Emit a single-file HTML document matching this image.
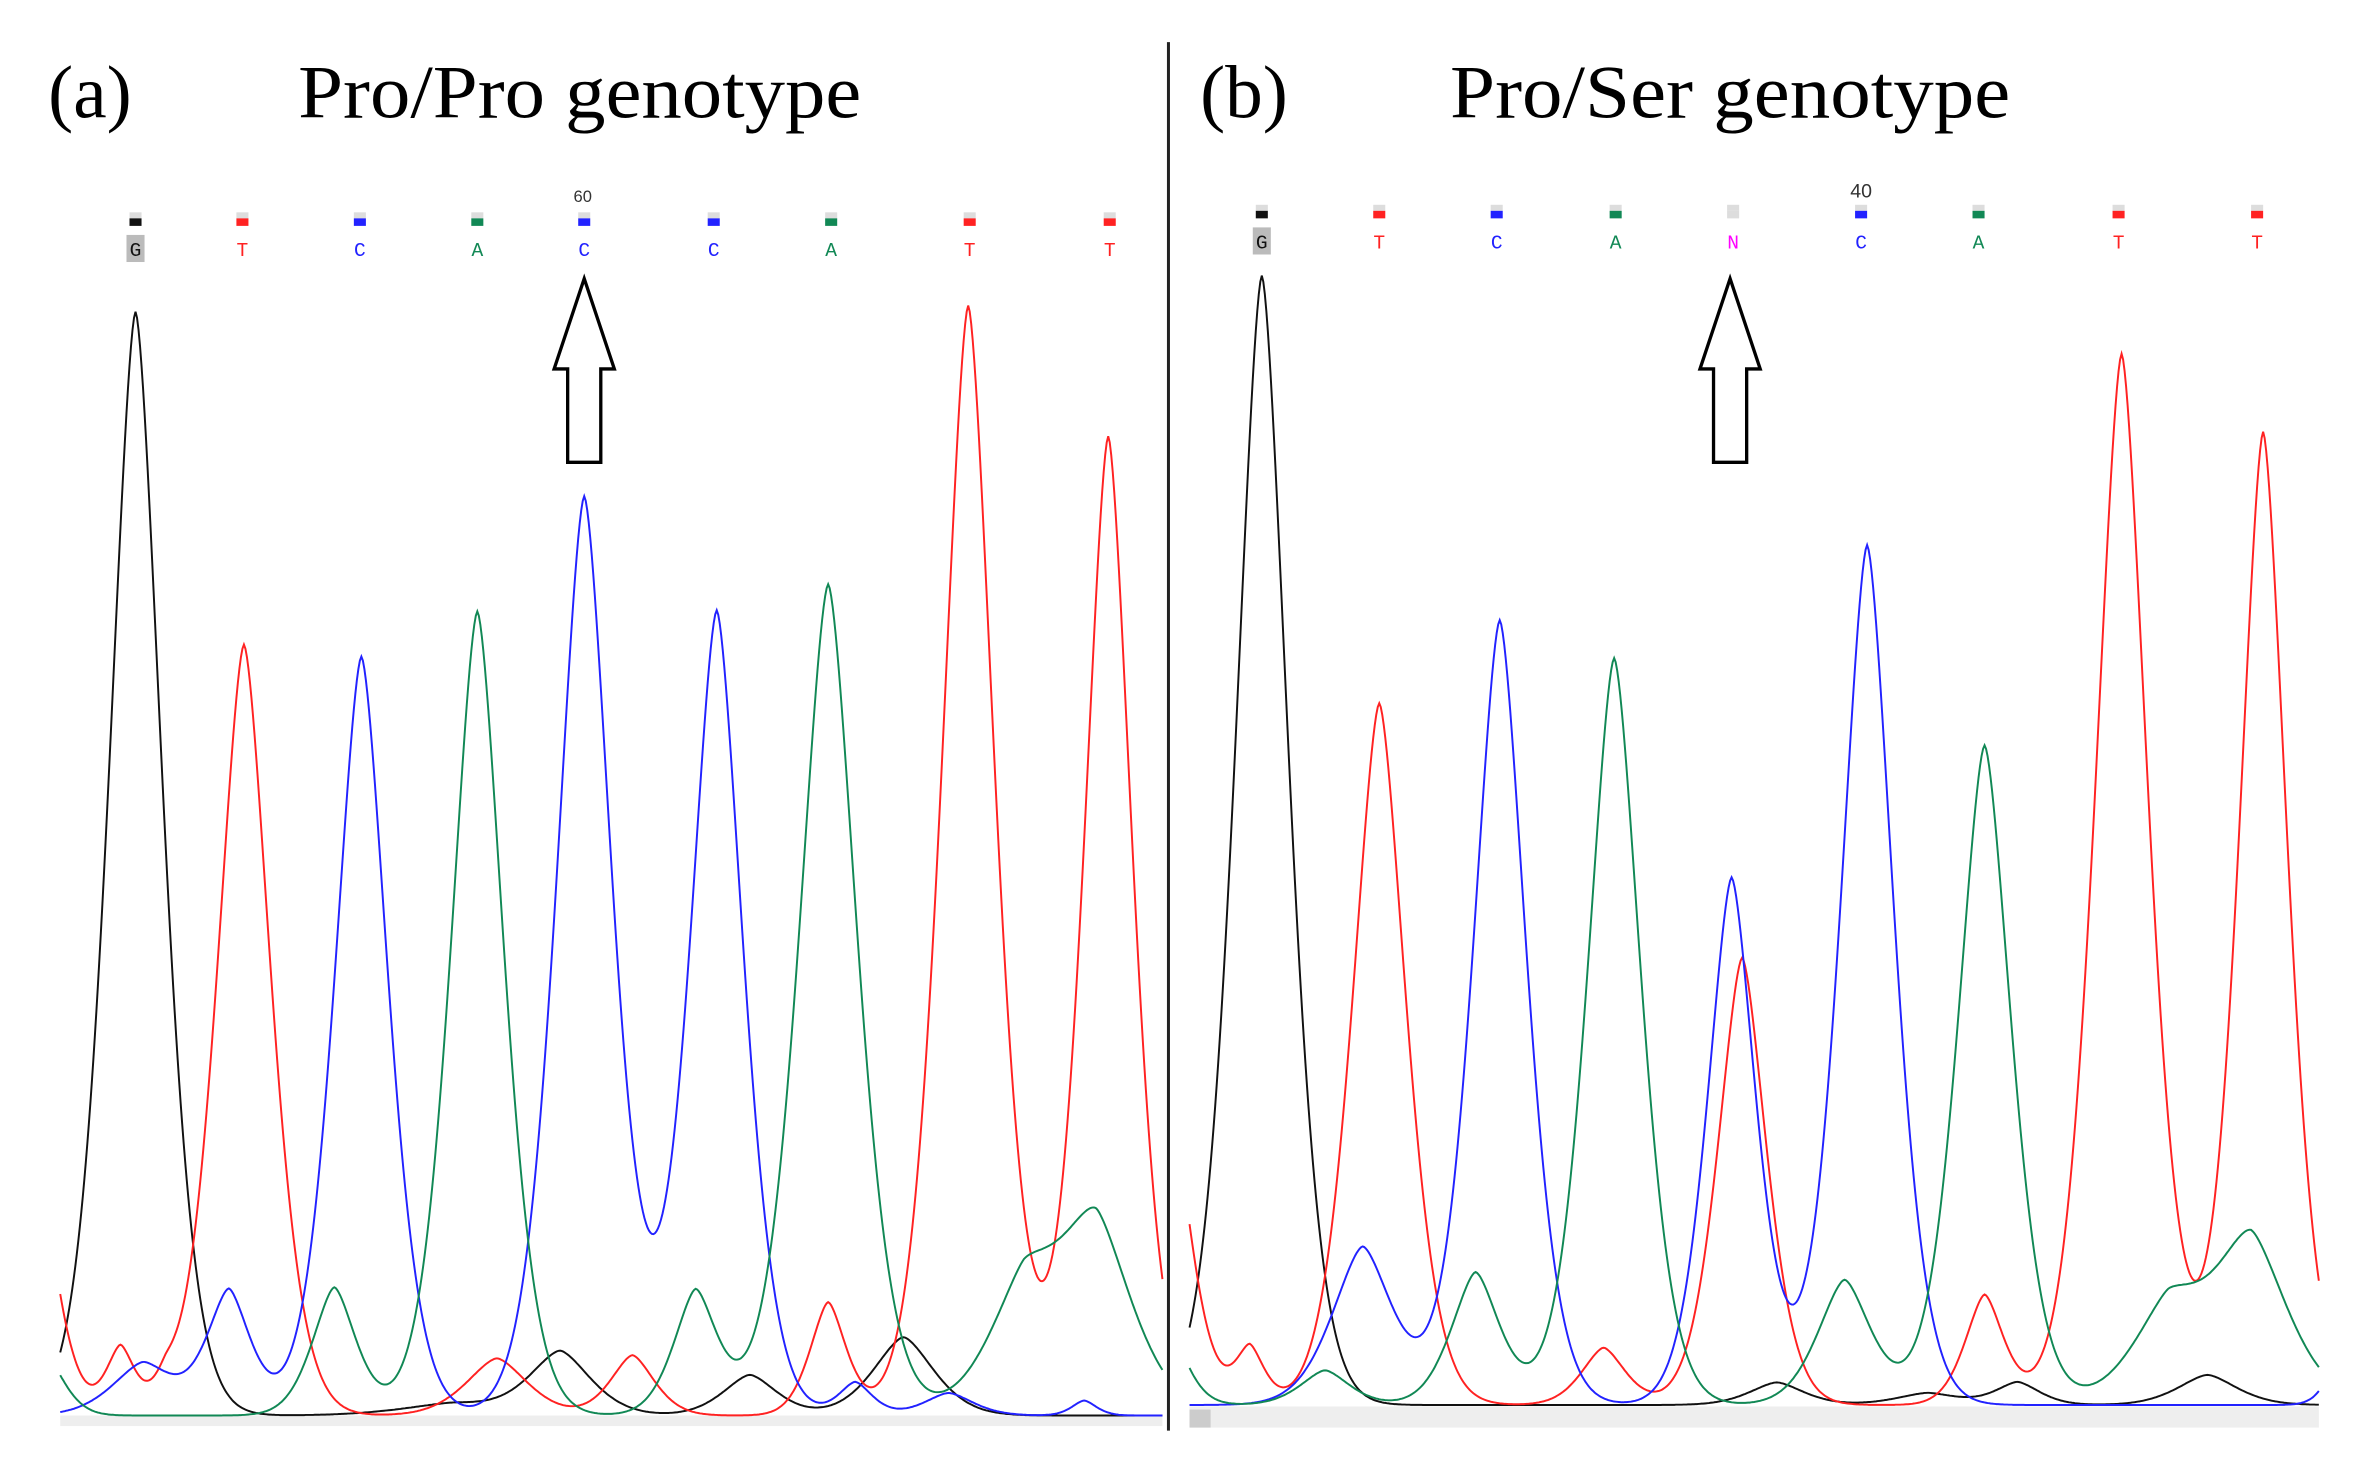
<!DOCTYPE html>
<html><head><meta charset="utf-8"><style>
html,body{margin:0;padding:0;background:#fff;width:2361px;height:1469px;overflow:hidden}
svg{display:block}
</style></head><body>
<svg id="s" width="2361" height="1469" viewBox="0 0 1568 975.5" preserveAspectRatio="none" xmlns="http://www.w3.org/2000/svg">
<rect width="1568" height="976" fill="#fff"/>
<rect x="40" y="940" width="732" height="7" fill="#eee"/>
<rect x="790" y="934" width="750" height="14" fill="#eee"/>
<rect x="790" y="936" width="14" height="12" fill="#ccc"/>
<line x1="776" y1="28" x2="776" y2="950" stroke="#222" stroke-width="2"/>
<g font-family="Liberation Serif, serif" fill="#000">
<text x="32" y="78" font-size="50">(a)</text>
<text x="198" y="78" font-size="50" textLength="374" lengthAdjust="spacingAndGlyphs">Pro/Pro genotype</text>
<text x="797" y="78" font-size="50">(b)</text>
<text x="963" y="78" font-size="50" textLength="372" lengthAdjust="spacingAndGlyphs">Pro/Ser genotype</text>
</g>
<g id="calls" font-family="Liberation Mono, monospace" font-size="13" text-anchor="middle"></g>
<text x="387" y="134" font-size="11" font-family="Liberation Sans, sans-serif" text-anchor="middle" fill="#333">60</text>
<text x="1236" y="131" font-size="13" font-family="Liberation Sans, sans-serif" text-anchor="middle" fill="#333">40</text>
<g id="traces" fill="none" stroke-width="1.3"></g>
<path d="M388 185 L408 245 L399 245 L399 307 L377 307 L377 245 L368 245 Z" fill="#fff" stroke="#000" stroke-width="2.2"/>
<path d="M1149 185 L1169 245 L1160 245 L1160 307 L1138 307 L1138 245 L1129 245 Z" fill="#fff" stroke="#000" stroke-width="2.2"/>
</svg>
<script>
var NS="http://www.w3.org/2000/svg";
var col={k:"#111",r:"#f22",b:"#22f",g:"#118855",n:"#f0f"};
var calls=[[90,"G","k"],[161,"T","r"],[239,"C","b"],[317,"A","g"],[388,"C","b"],[474,"C","b"],[552,"A","g"],[644,"T","r"],[737,"T","r"],
[838,"G","k"],[916,"T","r"],[994,"C","b"],[1073,"A","g"],[1151,"N","n"],[1236,"C","b"],[1314,"A","g"],[1407,"T","r"],[1499,"T","r"]];
var cg=document.getElementById("calls");
calls.forEach(function(c,i){
 var yb=i<9?148:143, yt=i<9?170:165;
 var r=document.createElementNS(NS,"rect");r.setAttribute("x",c[0]-4);r.setAttribute("y",yb-7);r.setAttribute("width",8);r.setAttribute("height",4);r.setAttribute("fill","#ddd");cg.appendChild(r);
 r=document.createElementNS(NS,"rect");r.setAttribute("x",c[0]-4);r.setAttribute("y",yb-3);r.setAttribute("width",8);r.setAttribute("height",5);r.setAttribute("fill",c[2]=="n"?"#ddd":col[c[2]]);cg.appendChild(r);
 if(c[1]=="G"){r=document.createElementNS(NS,"rect");r.setAttribute("x",c[0]-6);r.setAttribute("y",yt-14);r.setAttribute("width",12);r.setAttribute("height",18);r.setAttribute("fill","#bbb");cg.appendChild(r);}
 var t=document.createElementNS(NS,"text");t.setAttribute("x",c[0]);t.setAttribute("y",yt);t.setAttribute("fill",col[c[2]]);t.textContent=c[1];cg.appendChild(t);
});
function tr(x0,x1,base,peaks,color){
 var d="";
 for(var x=x0;x<=x1;x+=1){
  var y=base;
  peaks.forEach(function(p){var s=p[2]||20;var dx=Math.abs(x-p[0]);y-=(base-p[1])*Math.exp(-Math.pow(dx/s,1.6)/1.3);});
  d+=(x==x0?"M":"L")+x+" "+y.toFixed(1);
 }
 var p=document.createElementNS(NS,"path");p.setAttribute("d",d);p.setAttribute("stroke",color);document.getElementById("traces").appendChild(p);
}
var B1=940,B2=933;
tr(40,772,B1,[[90,207,22],[372,898,25],[498,913,22],[600,888,25],[300,932,40]],col.k);
tr(40,772,B1,[[20,740,18],[162,428,22],[643,203,22],[736,290,20],[80,895,12],[330,902,25],[420,900,18],[550,865,15],[110,925,10]],col.r);
tr(40,772,B1,[[240,436,22],[388,330,23],[476,406,22],[152,858,18],[568,918,14],[720,930,10],[95,905,25],[630,925,20]],col.b);
tr(40,772,B1,[[317,406,22],[550,388,24],[222,855,18],[462,857,18],[728,818,30],[30,900,15],[680,860,30]],col.g);
tr(790,1540,B2,[[838,183,22],[1180,918,22],[1340,918,18],[1466,913,24],[1280,925,25]],col.k);
tr(790,1540,B2,[[775,720,18],[916,467,22],[1157,636,20],[1409,235,22],[1503,287,20],[830,895,12],[1065,895,18],[1318,860,16]],col.r);
tr(790,1540,B2,[[996,412,22],[1150,583,20],[1240,362,22],[905,828,25],[1560,880,12]],col.b);
tr(790,1540,B2,[[1072,437,22],[1318,495,22],[980,845,20],[1225,850,22],[1495,825,30],[775,880,15],[880,910,20],[1440,870,30]],col.g);
</script>
</body></html>
